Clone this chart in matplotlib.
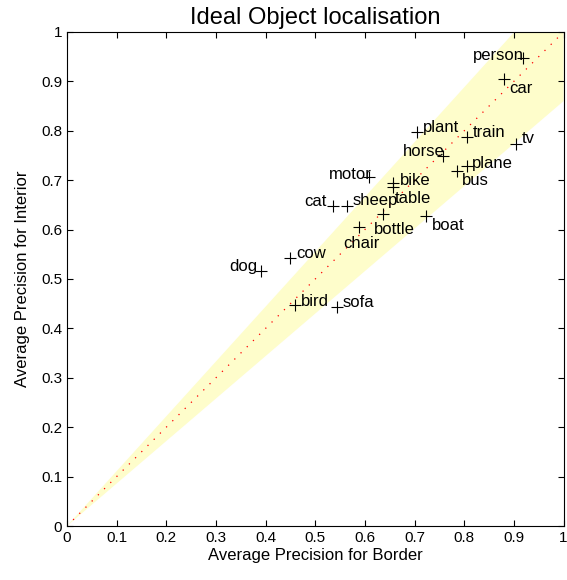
import matplotlib
matplotlib.use('Agg')
import matplotlib.pyplot as plt
import numpy as np

plt.rcParams['font.family'] = ['Liberation Sans', 'DejaVu Sans']

# Data
classes = ['person', 'car', 'train', 'tv', 'plant', 'horse', 'plane', 'bus',
           'bike', 'table', 'motor', 'cat', 'sheep', 'bottle', 'boat', 'chair',
           'cow', 'dog', 'bird', 'sofa']
ap_border = [0.918, 0.880, 0.805, 0.904, 0.705, 0.757, 0.805, 0.785,
             0.657, 0.657, 0.608, 0.536, 0.564, 0.637, 0.723, 0.588,
             0.450, 0.390, 0.460, 0.544]
ap_interior = [0.947, 0.905, 0.787, 0.773, 0.798, 0.749, 0.729, 0.719,
               0.694, 0.686, 0.706, 0.648, 0.648, 0.632, 0.628, 0.605,
               0.543, 0.516, 0.447, 0.443]
band_upper = 1.11   # slope of upper edge of the shaded band
band_lower = 0.86   # slope of lower edge

# label placement (offset in points, horizontal alignment)
label_pos = {
    'person': (1, 2, 'right'), 'car': (4, -7, 'left'), 'train': (4, 3, 'left'),
    'tv': (4, 4, 'left'), 'plant': (4, 3, 'left'), 'horse': (1, 3, 'right'),
    'plane': (4, 2, 'left'), 'bus': (4, -7, 'left'), 'bike': (5, 2, 'left'),
    'table': (1, -8, 'left'), 'motor': (2, 2, 'right'), 'cat': (-5, 3, 'right'),
    'sheep': (4, 4, 'left'), 'bottle': (-7, -11, 'left'), 'boat': (4, -7, 'left'),
    'chair': (-11, -12, 'left'), 'cow': (4, 3, 'left'), 'dog': (-2, 3, 'right'),
    'bird': (4, 3, 'left'), 'sofa': (4, 3, 'left'),
}

fig = plt.figure(figsize=(5.67, 5.80), dpi=100)
ax = fig.add_axes([0.118, 0.093, 0.876, 0.852])

xs = np.array([0, 1 / band_upper, 1, 1, 0])
ys = np.array([0, 1, 1, band_lower, 0])
ax.fill(xs, ys, color='#fefdcb', lw=0, zorder=0)
ax.plot([0, 1], [0, 1], color='red', linestyle=(0, (1, 6)), lw=0.9, zorder=1)

ax.plot(ap_border, ap_interior, '+', color='black', markersize=9,
        markeredgewidth=0.8, zorder=3)
for name, x, y in zip(classes, ap_border, ap_interior):
    dx, dy, ha = label_pos[name]
    ax.annotate(name, (x, y), xytext=(dx, dy), textcoords='offset points',
                ha=ha, va='center', fontsize=12, zorder=4)

ax.set_xlim(0, 1)
ax.set_ylim(0, 1)
ticks = np.round(np.arange(0, 1.01, 0.1), 1)
ticklabels = ['0'] + ['%.1f' % t for t in ticks[1:-1]] + ['1']
ax.set_xticks(ticks)
ax.set_xticklabels(ticklabels)
ax.set_yticks(ticks)
ax.set_yticklabels(ticklabels)
ax.tick_params(direction='in', top=True, right=True, labelsize=11, length=4)
ax.set_xlabel('Average Precision for Border', fontsize=12, labelpad=2)
ax.set_ylabel('Average Precision for Interior', fontsize=12, labelpad=8)
ax.set_title('Ideal Object localisation', fontsize=17, pad=6)

fig.savefig('out.png', dpi=100)
